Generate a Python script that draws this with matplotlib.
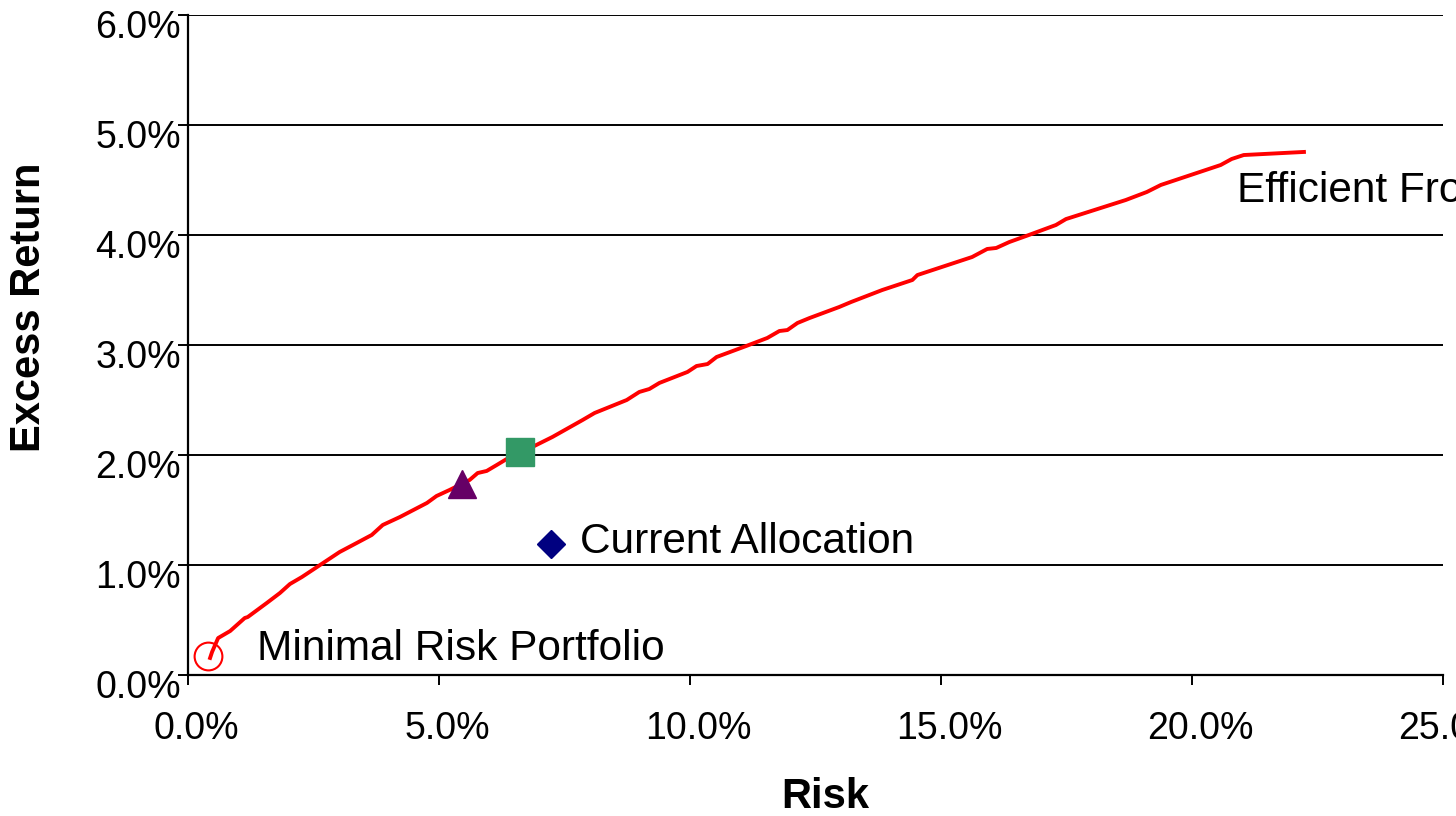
import matplotlib
matplotlib.use("Agg")
import matplotlib.pyplot as plt
import matplotlib.transforms as mtransforms
from matplotlib.ticker import FuncFormatter, MultipleLocator

plt.rcParams['font.family'] = ['Liberation Sans', 'DejaVu Sans']

# Efficient frontier (risk %, excess return %)
frontier_risk = [0.44, 0.48, 0.60, 0.84, 1.13, 1.19, 1.57, 1.83, 2.03, 2.27, 2.69, 3.02,
                 3.36, 3.66, 3.88, 4.22, 4.76, 4.95, 5.21, 5.61, 5.77, 5.95, 6.15, 6.35,
                 6.86, 7.26, 7.86, 8.10, 8.74, 8.99, 9.19, 9.39, 9.95, 10.13, 10.35, 10.53,
                 11.12, 11.54, 11.78, 11.94, 12.14, 12.38, 12.97, 13.21, 13.83, 14.43, 14.53,
                 15.62, 15.92, 16.10, 16.36, 16.75, 17.29, 17.49, 18.68, 19.10, 19.38, 20.57,
                 20.79, 21.03, 22.23]
frontier_ret = [0.155, 0.21, 0.336, 0.40, 0.518, 0.527, 0.655, 0.745, 0.827, 0.891, 1.018, 1.118,
                1.20, 1.273, 1.364, 1.436, 1.564, 1.627, 1.682, 1.773, 1.836, 1.855, 1.909, 1.964,
                2.073, 2.164, 2.318, 2.382, 2.50, 2.573, 2.60, 2.655, 2.755, 2.809, 2.827, 2.891,
                2.991, 3.064, 3.127, 3.136, 3.20, 3.245, 3.345, 3.391, 3.50, 3.591, 3.636,
                3.80, 3.873, 3.882, 3.936, 4.00, 4.091, 4.145, 4.318, 4.391, 4.455, 4.636,
                4.691, 4.727, 4.755]

min_risk = (0.40, 0.173)
triangle_pt = (5.45, 1.736)
square_pt = (6.61, 2.03)
current_pt = (7.24, 1.19)

label_min = "Minimal Risk Portfolio"
label_current = "Current Allocation"
label_frontier = "Efficient Frontier"

fig = plt.figure(figsize=(14.56, 8.16), dpi=100)
ax = fig.add_axes([188/1456, 1-675/816, (1443-188)/1456, (675-15)/816])

ax.plot(frontier_risk, frontier_ret, color='#ff0000', lw=2.8, zorder=3, solid_joinstyle='round')
ax.plot([min_risk[0]], [min_risk[1]], marker='o', ms=20, mfc='none', mec='#ff0000', mew=1.5, zorder=4)
ax.plot([triangle_pt[0]], [triangle_pt[1]], marker='^', ms=20, color='#660066', zorder=5, lw=0)
ax.plot([square_pt[0]], [square_pt[1]], marker='s', ms=20, color='#339966', zorder=5, lw=0)
ax.plot([current_pt[0]], [current_pt[1]], marker='D', ms=14, color='#000080', zorder=5, lw=0)

ax.text(1.37, 0.235, label_min, fontsize=30.5, va='center', ha='left', clip_on=False)
ax.text(7.8, 1.21, label_current, fontsize=30.5, va='center', ha='left', clip_on=False)
ax.text(20.89, 4.40, label_frontier, fontsize=30.5, va='center', ha='left', clip_on=False)

ax.set_xlim(0, 25)
ax.set_ylim(0, 6)
ax.xaxis.set_major_locator(MultipleLocator(5))
ax.yaxis.set_major_locator(MultipleLocator(1))
ax.xaxis.set_major_formatter(FuncFormatter(lambda v, p: f"{v:.1f}%"))
ax.yaxis.set_major_formatter(FuncFormatter(lambda v, p: f"{v:.1f}%"))

ax.grid(axis='y', color='black', lw=1.4)
ax.set_axisbelow(True)
for s in ['top', 'right']:
    ax.spines[s].set_visible(False)
for s in ['left', 'bottom']:
    ax.spines[s].set_linewidth(1.6)
    ax.spines[s].set_zorder(2)

ax.tick_params(axis='both', direction='out', length=7, width=1.4, labelsize=27)
ax.tick_params(axis='x', pad=19)
ax.tick_params(axis='y', pad=-2)

offx = mtransforms.ScaledTranslation(8/100, 0, fig.dpi_scale_trans)
for lbl in ax.get_xticklabels():
    lbl.set_transform(lbl.get_transform() + offx)
offy = mtransforms.ScaledTranslation(0, -9/100, fig.dpi_scale_trans)
for lbl in ax.get_yticklabels():
    lbl.set_transform(lbl.get_transform() + offy)

fig.text(29/1456, 1-307/816, "Excess Return", rotation=90, fontsize=30, fontweight='bold',
         ha='center', va='center')
fig.text(825/1456, 1-797/816, "Risk", fontsize=30, fontweight='bold', ha='center', va='center')

fig.savefig("out.png", dpi=100)
